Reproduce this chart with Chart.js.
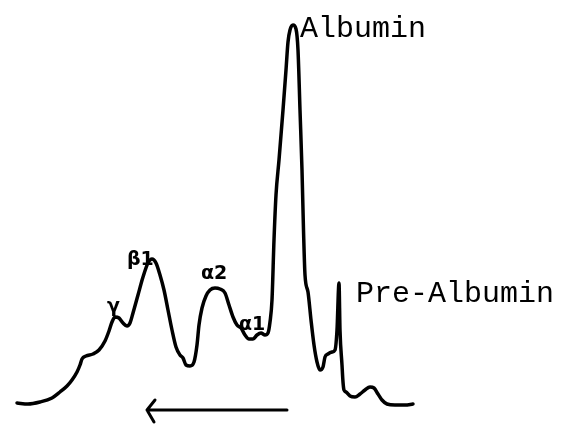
<!DOCTYPE html>
<html>
<head>
<meta charset="utf-8">
<script src="https://cdn.jsdelivr.net/npm/chart.js@4.4.1/dist/chart.umd.min.js"></script>
<style>
  html, body { margin: 0; padding: 0; background: #fff; }
  #wrap { width: 566px; height: 431px; }
</style>
</head>
<body>
<div id="wrap"><canvas id="trace"></canvas></div>
<script>
// densitometer trace: migration position vs. optical density
const positions = [17,28,40,52,60,67,72,77,80,82,86,93,99,105,109,112,115,119,123,127,130,133,138,143,148,152,156,160,164,168,172,176,180,183,186,190,194,197,199,202,206,210,215,220,225,229,233,237,241,245,249,253,257,261,265,268,270,272,274,276,279,283,286,288,290,293,296,298,300,302,303.5,305,308,311,314,317,320,323,325,328,332,335,337,339,340,342,343,344,346,350,355,360,365,370,374,378,382,387,395,405,413];
const density = [28,27,29,33,39,45,51,59,66,72,75,77,81,90,100,109,114,113,108,105,108,118,136,154,168,172,168,156,141,121,101,84,76,73,66,65,69,86,106,123,135,141,143,142,138,126,114,106,103,96,92,92,96,98,96,98,109,131,191,236,271,321,361,389,401,406,402,381,321,261,201,156,139,111,86,69,61,64,74,77,79,81,101,148,101,66,49,41,39,35,34,37,41,44,43,37,31,27,26,26,27];

// fraction names and where they sit (position, density at baseline)
const bandNames = ['Albumin', 'Pre-Albumin', '\u03b21', '\u03b12', '\u03b11', '\u03b3'];
const bandX = [300, 356, 127, 201, 239, 107];
const bandY = [394, 129, 166, 152, 101, 119];

// direction of migration
const arrowFrom = [287, 21];
const arrowTo = [147, 21];

const labelPlugin = {
  id: 'bandLabels',
  afterDatasetsDraw(chart) {
    const { ctx, scales: { x, y } } = chart;
    ctx.save();
    ctx.fillStyle = '#000';
    ctx.textBaseline = 'alphabetic';
    bandNames.forEach((name, i) => {
      const big = i < 2;
      ctx.font = big ? '30px "Liberation Mono", monospace' : 'bold 19px "DejaVu Sans", sans-serif';
      ctx.fillText(name, x.getPixelForValue(bandX[i]), y.getPixelForValue(bandY[i]));
    });

    // arrow
    const x0 = x.getPixelForValue(arrowFrom[0]), y0 = y.getPixelForValue(arrowFrom[1]);
    const x1 = x.getPixelForValue(arrowTo[0]), y1 = y.getPixelForValue(arrowTo[1]);
    ctx.strokeStyle = '#000';
    ctx.lineWidth = 3;
    ctx.lineCap = 'round';
    ctx.lineJoin = 'round';
    ctx.beginPath();
    ctx.moveTo(x0, y0);
    ctx.lineTo(x1, y1);
    ctx.moveTo(x1 + 8, y1 - 10);
    ctx.lineTo(x1, y1);
    ctx.lineTo(x1 + 7, y1 + 12);
    ctx.stroke();
    ctx.restore();
  }
};

const points = positions.map((p, i) => ({ x: p, y: density[i] }));

new Chart(document.getElementById('trace'), {
  type: 'scatter',
  data: {
    datasets: [{
      data: points,
      showLine: true,
      borderColor: '#000',
      borderWidth: 3.5,
      pointRadius: 0,
      cubicInterpolationMode: 'monotone',
      borderCapStyle: 'round',
      borderJoinStyle: 'round'
    }]
  },
  options: {
    responsive: true,
    maintainAspectRatio: false,
    animation: false,
    layout: { padding: 0 },
    plugins: { legend: { display: false }, tooltip: { enabled: false } },
    scales: {
      x: { type: 'linear', min: 0, max: 566, display: false },
      y: { type: 'linear', min: 0, max: 431, display: false }
    }
  },
  plugins: [labelPlugin]
});
</script>
</body>
</html>
